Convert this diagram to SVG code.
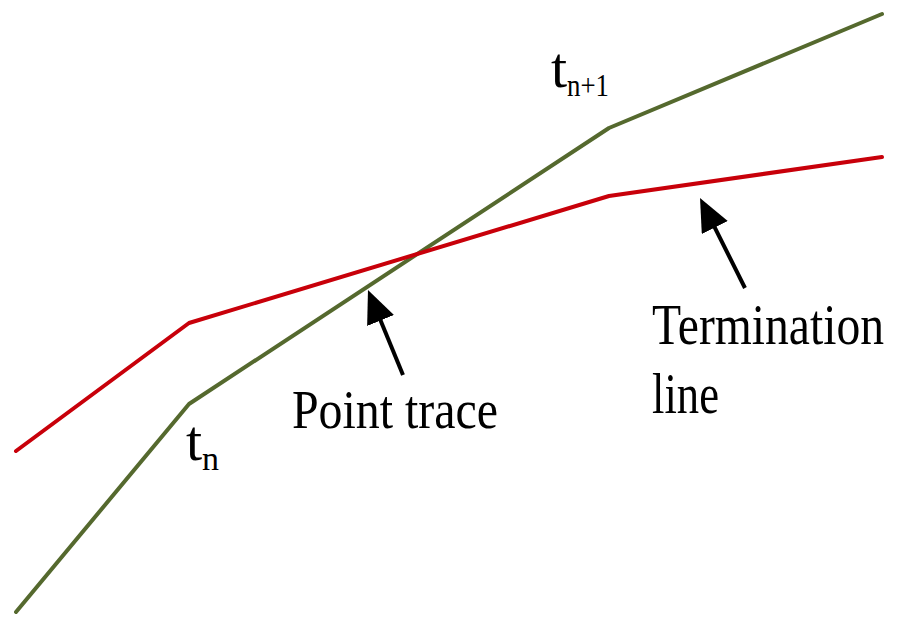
<svg xmlns="http://www.w3.org/2000/svg" width="899" height="618" viewBox="0 0 899 618">
  <style>
    .lbl { font-family: "Liberation Serif", "Times New Roman", serif; fill: #000; }
    .trace { fill: none; stroke: #55692e; stroke-width: 4; stroke-linejoin: round; stroke-linecap: round; }
    .term { fill: none; stroke: #c8000a; stroke-width: 4; stroke-linejoin: round; stroke-linecap: round; }
    .arrow { fill: none; stroke: #000; stroke-width: 4; marker-end: url(#head); }
  </style>
  <defs>
    <marker id="head" markerUnits="userSpaceOnUse" markerWidth="34" markerHeight="30" refX="8" refY="14.5" orient="auto">
      <path d="M0,0 L33,14.5 L0,29 z" fill="#000"/>
    </marker>
  </defs>
  <rect width="899" height="618" fill="#fff"/>

  <g id="point-trace-line">
    <polyline class="trace" points="16,612 189,404 609,128 882,14"/>
  </g>
  <g id="termination-line">
    <polyline class="term" points="16,451 189,323 609,196 882,157"/>
  </g>

  <g id="connectors">
    <line class="arrow" x1="403" y1="375" x2="377.5" y2="313.1"/>
    <line class="arrow" x1="745" y1="288" x2="711.2" y2="220.4"/>
  </g>

  <g id="label-tn">
    <text class="lbl" x="186" y="460" font-size="58">t</text>
    <text class="lbl" x="202" y="470" font-size="34">n</text>
  </g>
  <g id="label-tn1">
    <text class="lbl" x="551" y="87" font-size="58">t</text>
    <text class="lbl" x="567" y="96" font-size="32" textLength="42" lengthAdjust="spacingAndGlyphs">n+1</text>
  </g>
  <g id="label-point-trace">
    <text class="lbl" x="292" y="428" font-size="54" textLength="206" lengthAdjust="spacingAndGlyphs">Point trace</text>
  </g>
  <g id="label-termination">
    <text class="lbl" transform="translate(652,344) scale(1,1.2)" x="0" y="0" font-size="48" textLength="232" lengthAdjust="spacingAndGlyphs">Termination</text>
    <text class="lbl" transform="translate(652,413) scale(1,1.2)" x="0" y="0" font-size="48" textLength="67" lengthAdjust="spacingAndGlyphs">line</text>
  </g>
</svg>
